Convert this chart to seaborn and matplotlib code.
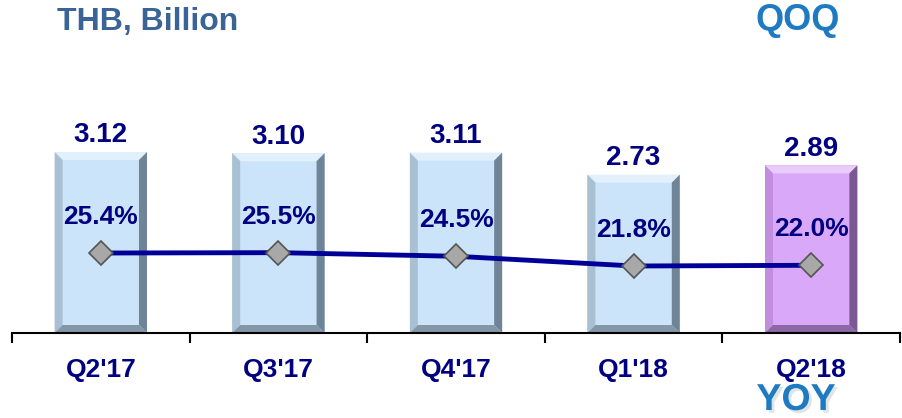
import matplotlib
matplotlib.use("Agg")
import matplotlib.pyplot as plt
import matplotlib.patheffects as pe
from matplotlib.patches import Polygon
import seaborn as sns
import pandas as pd
import numpy as np

quarters = ["Q2'17", "Q3'17", "Q4'17", "Q1'18", "Q2'18"]
values = [3.12, 3.10, 3.11, 2.73, 2.89]
value_labels = ["3.12", "3.10", "3.11", "2.73", "2.89"]
pct = [25.4, 25.5, 24.5, 21.8, 22.0]
pct_labels = ["25.4%", "25.5%", "24.5%", "21.8%", "22.0%"]
bar_colors = ["#CCE4FA", "#CCE4FA", "#CCE4FA", "#CCE4FA", "#DAA8F8"]
# bevel shades: top, left, right, bottom
blue_bevel = ["#E2F0FC", "#A9BFD2", "#6F8496", "#8397A8"]
purple_bevel = ["#EACCFB", "#C28EDF", "#7B5894", "#8C68A4"]
bevels = [blue_bevel] * 4 + [purple_bevel]

sns.set_theme(style="white")
plt.rcParams['font.family'] = ['Liberation Sans', 'DejaVu Sans']

df = pd.DataFrame({"q": quarters, "v": values, "p": pct})

fig = plt.figure(figsize=(9.03, 4.18), dpi=100)
ax = fig.add_axes([12/903, 85/418, 888/903, 333/418])

sns.barplot(data=df, x="q", y="v", hue="q", palette=bar_colors, legend=False,
            width=0.52, ax=ax, linewidth=0, saturation=1)

ax.set_xlim(-0.5, 4.5)
ax.set_ylim(0, 333/58)
ax.set_xlabel("")
ax.set_ylabel("")
ax.set_yticks([])
for s in ["top", "left", "right"]:
    ax.spines[s].set_visible(False)
ax.spines["bottom"].set_color("black")
ax.spines["bottom"].set_linewidth(1.5)
ax.spines["bottom"].set_zorder(5)

# bevel decoration on each bar
bw_px = 8.0
xpx = (ax.get_xlim()[1] - ax.get_xlim()[0]) / 888.0
ypx = (ax.get_ylim()[1] - ax.get_ylim()[0]) / 333.0
dx, dy = bw_px * xpx, bw_px * ypx
for patch, shades in zip(ax.patches, bevels):
    x0, y0 = patch.get_x(), patch.get_y()
    x1, y1 = x0 + patch.get_width(), y0 + patch.get_height()
    polys = [
        [(x0, y1), (x1, y1), (x1 - dx, y1 - dy), (x0 + dx, y1 - dy)],
        [(x0, y0), (x0, y1), (x0 + dx, y1 - dy), (x0 + dx, y0 + dy)],
        [(x1, y0), (x1, y1), (x1 - dx, y1 - dy), (x1 - dx, y0 + dy)],
        [(x0, y0), (x1, y0), (x1 - dx, y0 + dy), (x0 + dx, y0 + dy)],
    ]
    for pts, c in zip(polys, shades):
        ax.add_patch(Polygon(pts, closed=True, facecolor=c, edgecolor="none",
                             zorder=3))

ax.set_xticks(range(len(quarters)))
ax.set_xticklabels(quarters, fontsize=19, fontweight="bold", color="#000080")
ax.set_xticks(np.arange(-0.5, 5.0, 1.0), minor=True)
ax.tick_params(axis="x", which="major", length=0, pad=18)
ax.tick_params(axis="x", which="minor", length=7, width=1.5, color="black",
               direction="out", bottom=True)

for i, (v, lab) in enumerate(zip(values, value_labels)):
    ax.annotate(lab, (i, v), xytext=(0, 12), textcoords="offset points",
                ha="center", va="center", fontsize=20, fontweight="bold",
                color="#000080")

ax2 = ax.twinx()
ax2.set_ylim(3.24, 95.5)
sns.lineplot(data=df, x="q", y="p", ax=ax2, color="#000099", linewidth=3.5,
             marker="D", markersize=12, markerfacecolor="#A8A8A8",
             markeredgecolor="#555555", markeredgewidth=1.2)
ax2.set_yticks([])
ax2.set_ylabel("")
ax2.set_xlabel("")
for s in ["top", "left", "right", "bottom"]:
    ax2.spines[s].set_visible(False)
for i, (p, lab) in enumerate(zip(pct, pct_labels)):
    ax2.annotate(lab, (i, p), xytext=(0, 26), textcoords="offset points",
                 ha="center", va="center", fontsize=19, fontweight="bold",
                 color="#000080")

fig.text(57/903, 1 - 22/418, "THB, Billion", ha="left", va="center",
         fontsize=23, fontweight="bold", color="#3A6496")
fig.text(798/903, 1 - 20/418, "QOQ", ha="center", va="center",
         fontsize=26, fontweight="bold", color="#1F7BC1")
fig.text(796/903, 1 - 400/418, "YOY", ha="center", va="center",
         fontsize=27, fontweight="bold", color="#1F7BC1",
         path_effects=[pe.SimplePatchShadow(offset=(2, -2), alpha=0.12),
                       pe.Normal()])

fig.savefig("out.png", dpi=100)
